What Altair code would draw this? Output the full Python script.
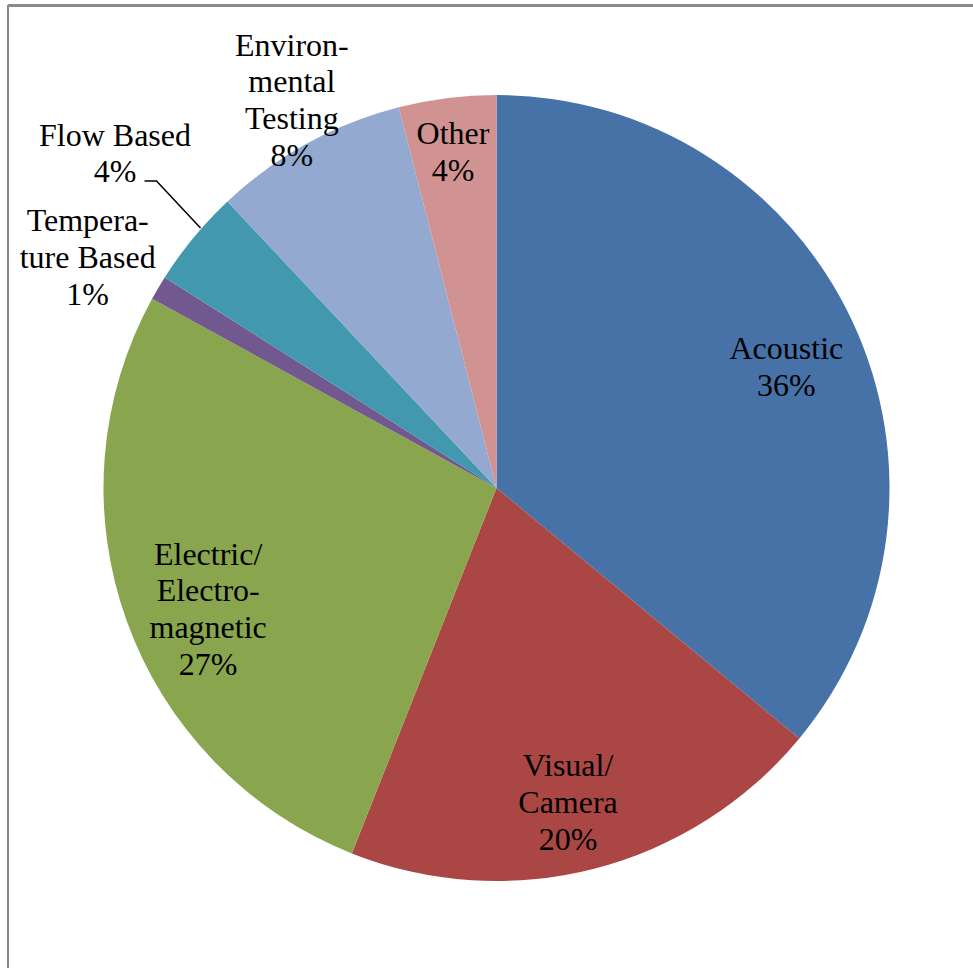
import math

import altair as alt
import pandas as pd

# Share of leak-detection methods (percent), clockwise from 12 o'clock
categories = [
    "Acoustic",
    "Visual/\nCamera",
    "Electric/\nElectro-\nmagnetic",
    "Tempera-\nture Based",
    "Flow Based",
    "Environ-\nmental\nTesting",
    "Other",
]
shares = [36, 20, 27, 1, 4, 8, 4]
slice_colors = ["#4672A8", "#AA4744", "#89A54E", "#71588F", "#4198AF", "#93A9CF", "#D19392"]

# Label placement: distance from the centre (px) and a small angular nudge (deg)
label_radius = [314, 323, 313, 469, 507, 438, 338]
label_nudge = [2.6, 1.6, -3.1, -1.25, 1.6, 0.95, -0.2]

CX, CY, R = 496.5, 488.0, 393.0
W, H = 973, 968
FONT = "Liberation Serif"
FONT_SIZE = 32
LINE_H = 36.7

total = sum(shares)
rows = []
cum = 0.0
for i, (name, v) in enumerate(zip(categories, shares)):
    mid = (cum + v / 2) / total * 360.0
    cum += v
    a = math.radians(mid + label_nudge[i])
    text = f"{name}\n{v}%"
    n_lines = text.count("\n") + 1
    # anchor is the first line, so lift the block to centre it on the label point
    rows.append(
        {
            "idx": i,
            "category": name,
            "value": v,
            "label": text,
            "cx": CX + label_radius[i] * math.sin(a),
            "cy": CY - label_radius[i] * math.cos(a),
            "ly": CY - label_radius[i] * math.cos(a) - (n_lines - 1) / 2 * LINE_H,
            "mid": mid,
        }
    )
df = pd.DataFrame(rows)

pie = (
    alt.Chart(df)
    .mark_arc(radius=R, stroke=None)
    .encode(
        theta=alt.Theta("value:Q", stack=True),
        order=alt.Order("idx:O"),
        color=alt.Color(
            "category:N",
            scale=alt.Scale(domain=categories, range=slice_colors),
            legend=None,
        ),
        x=alt.value(CX),
        y=alt.value(CY),
    )
)

labels = (
    alt.Chart(df)
    .mark_text(
        font=FONT,
        fontSize=FONT_SIZE,
        lineBreak="\n",
        lineHeight=LINE_H,
        align="center",
        baseline="middle",
        color="#000000",
    )
    .encode(
        x=alt.X("cx:Q", scale=None, axis=None),
        y=alt.Y("ly:Q", scale=None, axis=None),
        text="label:N",
    )
)

# Leader line from the "Flow Based" label to the rim of its slice
flow = df[df["category"] == "Flow Based"].iloc[0]
edge_a = math.radians(flow["mid"] + 1.7)
leader_df = pd.DataFrame(
    {
        "px": [flow["cx"] + 29.5, flow["cx"] + 41.5, CX + (R + 1) * math.sin(edge_a)],
        "py": [flow["cy"] + 27, flow["cy"] + 27, CY - (R + 1) * math.cos(edge_a)],
        "k": [0, 1, 2],
    }
)
leader = (
    alt.Chart(leader_df)
    .mark_line(color="#000000", strokeWidth=1.5)
    .encode(
        x=alt.X("px:Q", scale=None, axis=None),
        y=alt.Y("py:Q", scale=None, axis=None),
        order="k:O",
    )
)

# Chart-area frame (top and left edges)
frame_top = alt.Chart(df).mark_rule(color="#8a8a8a", strokeWidth=2).encode(
    x=alt.value(8), x2=alt.value(W), y=alt.value(5.5)
)
frame_left = alt.Chart(df).mark_rule(color="#8a8a8a", strokeWidth=2).encode(
    x=alt.value(8), y=alt.value(5.5), y2=alt.value(H)
)

chart = (
    alt.layer(frame_top, frame_left, pie, leader, labels)
    .properties(width=W, height=H, autosize="none", padding=0, background="#ffffff")
    .configure_view(stroke=None)
)

chart.save("out.html", embed_options={"renderer": "svg", "actions": False})
